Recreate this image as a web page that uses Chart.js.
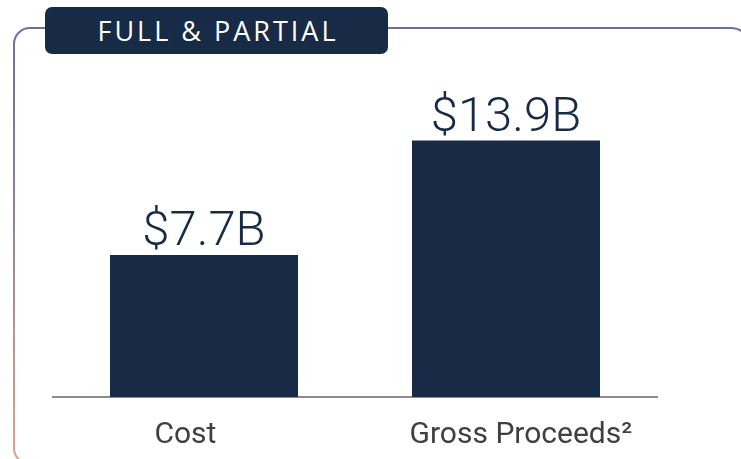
<!DOCTYPE html>
<html>
<head>
<meta charset="utf-8">
<script src="https://cdn.jsdelivr.net/npm/chart.js@4"></script>
<style>
    html, body { margin: 0; padding: 0; background: #fff; }
    #wrap { position: relative; width: 741px; height: 459px; overflow: hidden; }
    #chart { position: absolute; left: 0; top: 0; }
    #tab {
        position: absolute; left: 45px; top: 7px; width: 343px; height: 47px;
        background: #172b47; border-radius: 7px; color: #fff;
        font-family: "Open Sans", sans-serif; font-size: 27px; font-weight: 500;
        letter-spacing: 3px; line-height: 47px; text-align: center;
        box-sizing: border-box; padding-left: 3px;
    }
</style>
</head>
<body>
<div id="wrap">
    <canvas id="chart" width="741" height="459"></canvas>
    <div id="tab">FULL &amp; PARTIAL</div>
</div>
<script>
let categories = ["Cost", "Gross Proceeds\u00B2"];
let values = [7.7, 13.9]; // $B

let navy = "#172b47";

// rounded frame with gradient stroke, drawn behind the chart
let framePlugin = {
    id: "frame",
    beforeDraw: function (chart) {
        let ctx = chart.ctx;
        let x = 14, y = 28, w = 734, h = 436, r = 16;
        let grad = ctx.createLinearGradient(0, y, 0, y + h);
        grad.addColorStop(0, "#6f6f9e");
        grad.addColorStop(0.35, "#8a7d9c");
        grad.addColorStop(1, "#dba48b");
        ctx.save();
        ctx.strokeStyle = grad;
        ctx.lineWidth = 2;
        ctx.beginPath();
        ctx.roundRect(x, y, w, h, r);
        ctx.stroke();
        ctx.restore();
    },
};

// value labels above bars
let valueLabels = {
    id: "valueLabels",
    afterDatasetsDraw: function (chart) {
        let ctx = chart.ctx;
        let meta = chart.getDatasetMeta(0);
        ctx.save();
        ctx.fillStyle = navy;
        ctx.font = "300 49px Roboto, sans-serif";
        ctx.textAlign = "center";
        ctx.textBaseline = "alphabetic";
        meta.data.forEach(function (bar, i) {
            ctx.fillText("$" + values[i].toFixed(1) + "B", bar.x, bar.y - 10);
        });
        ctx.restore();
    },
};

new Chart(document.getElementById("chart"), {
    type: "bar",
    data: {
        labels: categories,
        datasets: [
            {
                data: values,
                backgroundColor: navy,
                borderWidth: 0,
                barPercentage: 1,
                categoryPercentage: 0.6225,
            },
        ],
    },
    options: {
        responsive: false,
        animation: false,
        layout: {
            padding: { left: 53, right: 84, top: 60, bottom: -14 },
        },
        scales: {
            x: {
                grid: { display: false, drawTicks: false },
                border: { display: true, color: "#8c8c8c", width: 2 },
                ticks: {
                    color: "#404040",
                    padding: 20,
                    font: { family: "Roboto", size: 30 },
                    // labels sit a little off the bar centres in the original
                    callback: function (value, i) {
                        return i === 0 ? categories[i] + "     " : "    " + categories[i];
                    },
                },
            },
            y: {
                display: false,
                min: 0,
                max: 18.27,
            },
        },
        plugins: {
            legend: { display: false },
            tooltip: { enabled: false },
        },
    },
    plugins: [framePlugin, valueLabels],
});
</script>
</body>
</html>
